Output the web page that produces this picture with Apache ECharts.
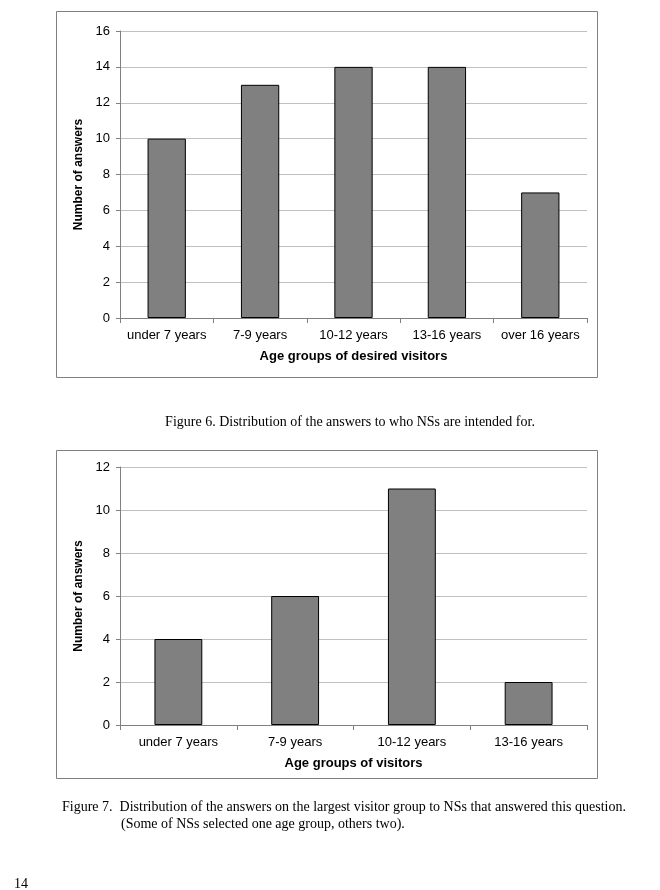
<!DOCTYPE html>
<html>
<head>
<meta charset="utf-8">
<script src="https://cdn.jsdelivr.net/npm/echarts@6/dist/echarts.min.js"></script>
<style>
html,body{margin:0;padding:0;background:#fff;}
#c{width:660px;height:890px;}
</style>
</head>
<body>
<div id="c"></div>
<script>
const categories1 = ['under 7 years', '7-9 years', '10-12 years', '13-16 years', 'over 16 years'];
const values1 = [10, 13, 14, 14, 7];
const categories2 = ['under 7 years', '7-9 years', '10-12 years', '13-16 years'];
const values2 = [4, 6, 11, 2];
const yTitle = 'Number of answers';
const xTitle1 = 'Age groups of desired visitors';
const xTitle2 = 'Age groups of visitors';
const caption1 = 'Figure 6. Distribution of the answers to who NSs are intended for.';
const caption2a = 'Figure 7.  Distribution of the answers on the largest visitor group to NSs that answered this question.';
const caption2b = '(Some of NSs selected one age group, others two).';
const pageNumber = '14';

const chart = echarts.init(document.getElementById('c'), null, {renderer: 'canvas'});
const sans = 'Liberation Sans, Arial, sans-serif';
const serif = 'Liberation Serif, Times New Roman, serif';

function xAxis(idx, cats, title) {
  return {
    type: 'category', gridIndex: idx, data: cats,
    axisLine: {lineStyle: {color: '#808080', width: 1}},
    axisTick: {show: true, length: 5, lineStyle: {color: '#808080'}},
    axisLabel: {color: '#000', fontFamily: sans, fontSize: 13, margin: 11, interval: 0, hideOverlap: false},
    name: title, nameLocation: 'middle', nameGap: 32,
    nameTextStyle: {color: '#000', fontFamily: sans, fontSize: 13, fontWeight: 'bold'}
  };
}
function yAxis(idx, max) {
  return {
    type: 'value', gridIndex: idx, min: 0, max: max, interval: 2,
    axisLine: {show: true, lineStyle: {color: '#808080', width: 1}},
    axisTick: {show: true, length: 4, lineStyle: {color: '#808080'}},
    axisLabel: {color: '#000', fontFamily: sans, fontSize: 13, margin: 10},
    splitLine: {show: true, lineStyle: {color: '#c0c0c0', width: 1}},
    name: yTitle, nameLocation: 'middle', nameGap: 35, nameRotate: 90,
    nameTextStyle: {color: '#000', fontFamily: sans, fontSize: 12, fontWeight: 'bold'}
  };
}

chart.setOption({
  animation: false,
  backgroundColor: '#fff',
  grid: [
    {left: 120, top: 31, width: 467, height: 287},
    {left: 120, top: 467, width: 467, height: 258}
  ],
  xAxis: [xAxis(0, categories1, xTitle1), xAxis(1, categories2, xTitle2)],
  yAxis: [yAxis(0, 16), yAxis(1, 12)],
  series: [
    {type: 'bar', xAxisIndex: 0, yAxisIndex: 0, data: values1, barWidth: '41%',
     itemStyle: {color: '#808080', borderColor: '#000', borderWidth: 1}},
    {type: 'bar', xAxisIndex: 1, yAxisIndex: 1, data: values2, barWidth: '41%',
     itemStyle: {color: '#808080', borderColor: '#000', borderWidth: 1}}
  ],
  graphic: [
    {type: 'rect', shape: {x: 56.5, y: 11.5, width: 541, height: 366}, style: {fill: 'none', stroke: '#808080', lineWidth: 1}, z: -1},
    {type: 'rect', shape: {x: 56.5, y: 450.5, width: 541, height: 328}, style: {fill: 'none', stroke: '#808080', lineWidth: 1}, z: -1},
    {type: 'text', x: 350, y: 422, style: {text: caption1, font: '14px ' + serif, fill: '#000', textAlign: 'center', textVerticalAlign: 'middle'}},
    {type: 'text', x: 62, y: 807, style: {text: caption2a, font: '14px ' + serif, fill: '#000', textAlign: 'left', textVerticalAlign: 'middle'}},
    {type: 'text', x: 121, y: 824, style: {text: caption2b, font: '14px ' + serif, fill: '#000', textAlign: 'left', textVerticalAlign: 'middle'}},
    {type: 'text', x: 14, y: 884, style: {text: pageNumber, font: '14px ' + serif, fill: '#000', textAlign: 'left', textVerticalAlign: 'middle'}}
  ]
});
</script>
</body>
</html>
